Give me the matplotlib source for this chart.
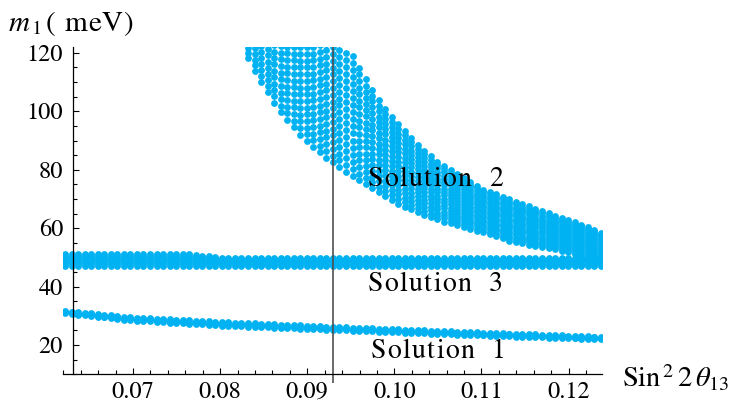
import numpy as np
import matplotlib
matplotlib.use("Agg")
import matplotlib.pyplot as plt
from matplotlib.ticker import MultipleLocator, FormatStrFormatter
from matplotlib.transforms import IdentityTransform

plt.rcParams['font.family'] = ['STIXGeneral', 'DejaVu Serif']
plt.rcParams['mathtext.fontset'] = 'stix'

# ---------------- data ----------------
# scan grid of sin^2 2theta13 columns
col_start, col_stop, col_step = 0.0622, 0.1238, 0.00075

# Solution 2: lower and upper envelopes (m1 in meV)
sol2_xl = [0.0826, 0.0841, 0.0855, 0.0867, 0.0882, 0.0895, 0.0910, 0.0924, 0.0938,
           0.0952, 0.0964, 0.0984, 0.1003, 0.1021, 0.1041, 0.1060, 0.1079, 0.1106,
           0.1137, 0.1176, 0.1202, 0.1220, 0.1238]
sol2_lower = [121.7, 113.0, 106.3, 100.5, 95.3, 91.0, 87.0, 83.7, 80.6,
              77.9, 75.5, 72.0, 68.6, 66.2, 63.8, 62.0, 60.4, 58.3,
              55.3, 53.2, 51.8, 49.5, 47.5]
sol2_xu = [0.0826, 0.0870, 0.0905, 0.0925, 0.0938, 0.0952, 0.0959, 0.0966, 0.0974,
           0.0980, 0.0987, 0.0994, 0.1002, 0.1009, 0.1016, 0.1023, 0.1029, 0.1037,
           0.1044, 0.1050, 0.1057, 0.1102, 0.1110, 0.1125, 0.1139, 0.1153, 0.1168,
           0.1183, 0.1198, 0.1213, 0.1228, 0.1238]
sol2_upper = [150.0, 138.0, 127.0, 122.5, 120.7, 119.0, 115.2, 111.4, 107.6,
              104.5, 101.8, 99.1, 96.3, 94.2, 92.0, 89.7, 87.7, 86.0,
              84.0, 82.7, 81.4, 73.1, 72.4, 70.7, 69.0, 67.6, 65.9,
              64.5, 62.8, 61.4, 59.7, 58.3]
sol2_rows = 18

# Solution 3
sol3_x = [0.0622, 0.0765, 0.0785, 0.0810, 0.1238]
sol3_upper = [51.0, 51.0, 50.4, 49.7, 49.7]
sol3_lower = [47.2, 47.2, 47.2, 47.2, 47.2]
sol3_rows = 8

# Solution 1
sol1_x = [0.0622, 0.070, 0.080, 0.095, 0.110, 0.1238]
sol1_upper = [31.7, 29.4, 27.9, 26.0, 24.3, 22.8]
sol1_lower = [30.9, 28.4, 26.7, 25.0, 23.3, 22.0]
sol1_rows = 4

exp_value = 0.0929   # vertical reference line

labels = ["Solution  2", "Solution  3", "Solution  1"]
xticks = [0.07, 0.08, 0.09, 0.10, 0.11, 0.12]

# ---------------- build point clouds ----------------
cols = np.arange(col_start, col_stop + 1e-9, col_step)

def band(xn, lo, hi, nrows, xmin=None):
    xs, ys = [], []
    t = np.linspace(0, 1, nrows)
    for c in cols:
        if xmin is not None and c < xmin - 1e-9:
            continue
        L = np.interp(c, xn[0], lo)
        U = np.interp(c, xn[1], hi)
        for tt in t:
            xs.append(c)
            ys.append(L + (U - L) * tt)
    return np.array(xs), np.array(ys)

x2, y2 = band((sol2_xl, sol2_xu), sol2_lower, sol2_upper, sol2_rows, xmin=sol2_xl[0])
x3, y3 = band((sol3_x, sol3_x), sol3_lower, sol3_upper, sol3_rows)
x1, y1 = band((sol1_x, sol1_x), sol1_lower, sol1_upper, sol1_rows)

# ---------------- figure ----------------
W, H = 732, 404
fig = plt.figure(figsize=(W / 100, H / 100), dpi=100)
x0, x1p = 63.3, 601.7
ytop, ybot = 47.0, 374.3
ax = fig.add_axes([x0 / W, (H - ybot) / H, (x1p - x0) / W, (ybot - ytop) / H])
ax.set_xlim(0.0620, 0.1238)
ax.set_ylim(10, 122)

dot = '#00B2F2'
for xs, ys in ((x1, y1), (x3, y3), (x2, y2)):
    ax.scatter(xs, ys, s=24, color=dot, linewidths=0, zorder=2)

ax.vlines(exp_value, 7, 122, color='#505050', lw=1.2, clip_on=False, zorder=4)

for s in ('top', 'right'):
    ax.spines[s].set_visible(False)
ax.spines['left'].set_position(('data', 0.0631))
for s in ('left', 'bottom'):
    ax.spines[s].set_linewidth(0.9)
    ax.spines[s].set_zorder(5)

ax.xaxis.set_major_locator(MultipleLocator(0.01))
ax.xaxis.set_minor_locator(MultipleLocator(0.002))
ax.xaxis.set_major_formatter(FormatStrFormatter('%.2f'))
ax.set_xticks(xticks)
ax.yaxis.set_major_locator(MultipleLocator(20))
ax.yaxis.set_minor_locator(MultipleLocator(5))
ax.tick_params(which='both', direction='in', labelsize=17.5, width=0.8)
ax.tick_params(which='major', length=4.5)
ax.tick_params(which='minor', length=2.6)
ax.tick_params(axis='y', pad=7)
ax.tick_params(axis='x', pad=5)

# ---------------- text with Mathematica-like letter spacing ----------------
renderer = fig.canvas.get_renderer()

def spaced(xpix, ytop_pix, s, size, track):
    x = xpix
    for ch in s:
        if ch == ' ':
            x += size * 0.25 * 100 / 72 + track
            continue
        t = fig.text(x, H - ytop_pix, ch, transform=IdentityTransform(),
                     fontsize=size, va='baseline', ha='left', zorder=6)
        w = t.get_window_extent(renderer).width
        x += w + track
    return x

spaced(368, 186, labels[0], 20, 1.3)
spaced(368, 291, labels[1], 20, 1.3)
spaced(371, 358, labels[2], 20, 1.3)

# y axis label  m1 (meV)
fig.text(8, H - 31, r'$m_{\,1}$', transform=IdentityTransform(), fontsize=21,
         va='baseline', ha='left')
spaced(46, 31, '( meV)', 21, 0.8)

# x axis label
fig.text(622, H - 387, r'Sin$^{\,2}\,2\,\theta_{13}$', transform=IdentityTransform(),
         fontsize=20.5, va='baseline', ha='left')

fig.savefig('out.png', dpi=100)
